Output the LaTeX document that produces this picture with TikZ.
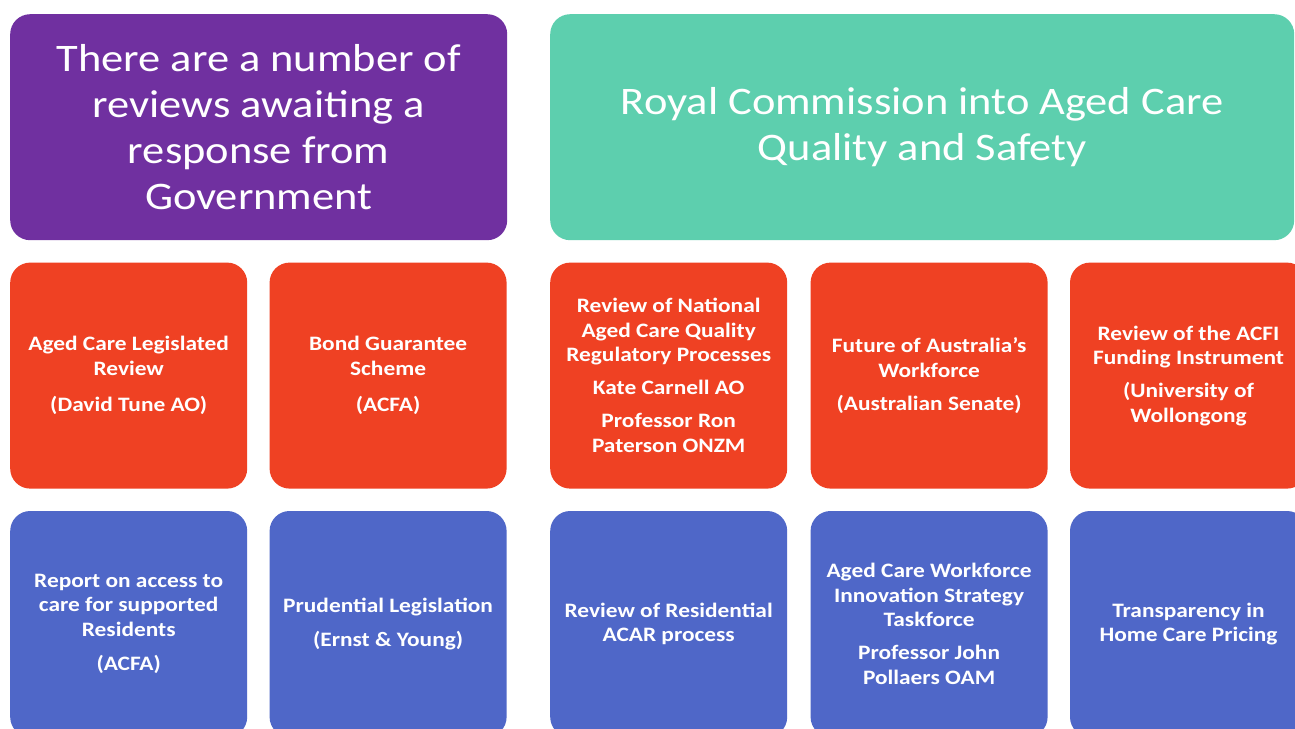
\documentclass[tikz,border=0pt]{standalone}
\usepackage{fontspec}
\setmainfont[FakeStretch=1.14]{Carlito}
\usetikzlibrary{positioning}
\definecolor{govpurple}{HTML}{7030A0}
\definecolor{rcteal}{HTML}{5DCFAE}
\definecolor{revred}{HTML}{EF4123}
\definecolor{revblue}{HTML}{4F67C8}

\begin{document}
\begin{tikzpicture}[x=1pt, y=-1pt,
    box/.style={rounded corners=20pt, text=white, align=center, inner sep=0pt, anchor=north west},
    head/.style={box, minimum height=226pt, font=\fontsize{39}{46}\selectfont},
    card/.style={box, minimum width=237pt, minimum height=226pt, font=\bfseries\fontsize{20.5}{24.5}\selectfont}]
    \fill[white] (0,0) rectangle (1295,728);
    \clip (0,0) rectangle (1295,728);
    % headers
    \node[head, fill=govpurple, minimum width=497pt] (govt) at (10,14) {There are a number of\\reviews awaiting a\\response from\\Government};
    \node[head, fill=rcteal, minimum width=744pt] (royal) at (550,14) {Royal Commission into Aged Care\\Quality and Safety};
    % red row
    \node[card, fill=revred, below=22pt of govt.south west, anchor=north west] (legis) {Aged Care Legislated\\Review\\[12pt](David Tune AO)};
    \node[card, fill=revred, right=22pt of legis] (bond) {Bond Guarantee\\Scheme\\[12pt](ACFA)};
    \node[card, fill=revred, below=22pt of royal.south west, anchor=north west] (quality) {Review of National\\Aged Care Quality\\Regulatory Processes\\[8.5pt]Kate Carnell AO\\[8.5pt]Professor Ron\\Paterson ONZM};
    \node[card, fill=revred, right=23pt of quality] (future) {Future of Australia’s\\Workforce\\[8.5pt](Australian Senate)};
    \node[card, fill=revred, right=22pt of future] (acfi) {Review of the ACFI\\Funding Instrument\\[8.5pt](University of\\Wollongong};
    % blue row
    \node[card, fill=revblue, below=22pt of legis] (access) {Report on access to\\care for supported\\Residents\\[10pt](ACFA)};
    \node[card, fill=revblue, below=22pt of bond] (prudent) {Prudential Legislation\\[10pt](Ernst \& Young)};
    \node[card, fill=revblue, below=22pt of quality] (acar) {Review of Residential\\ACAR process};
    \node[card, fill=revblue, below=22pt of future] (taskforce) {Aged Care Workforce\\Innovation Strategy\\Taskforce\\[8.5pt]Professor John\\Pollaers OAM};
    \node[card, fill=revblue, below=22pt of acfi] (pricing) {Transparency in\\Home Care Pricing};
\end{tikzpicture}
\end{document}
